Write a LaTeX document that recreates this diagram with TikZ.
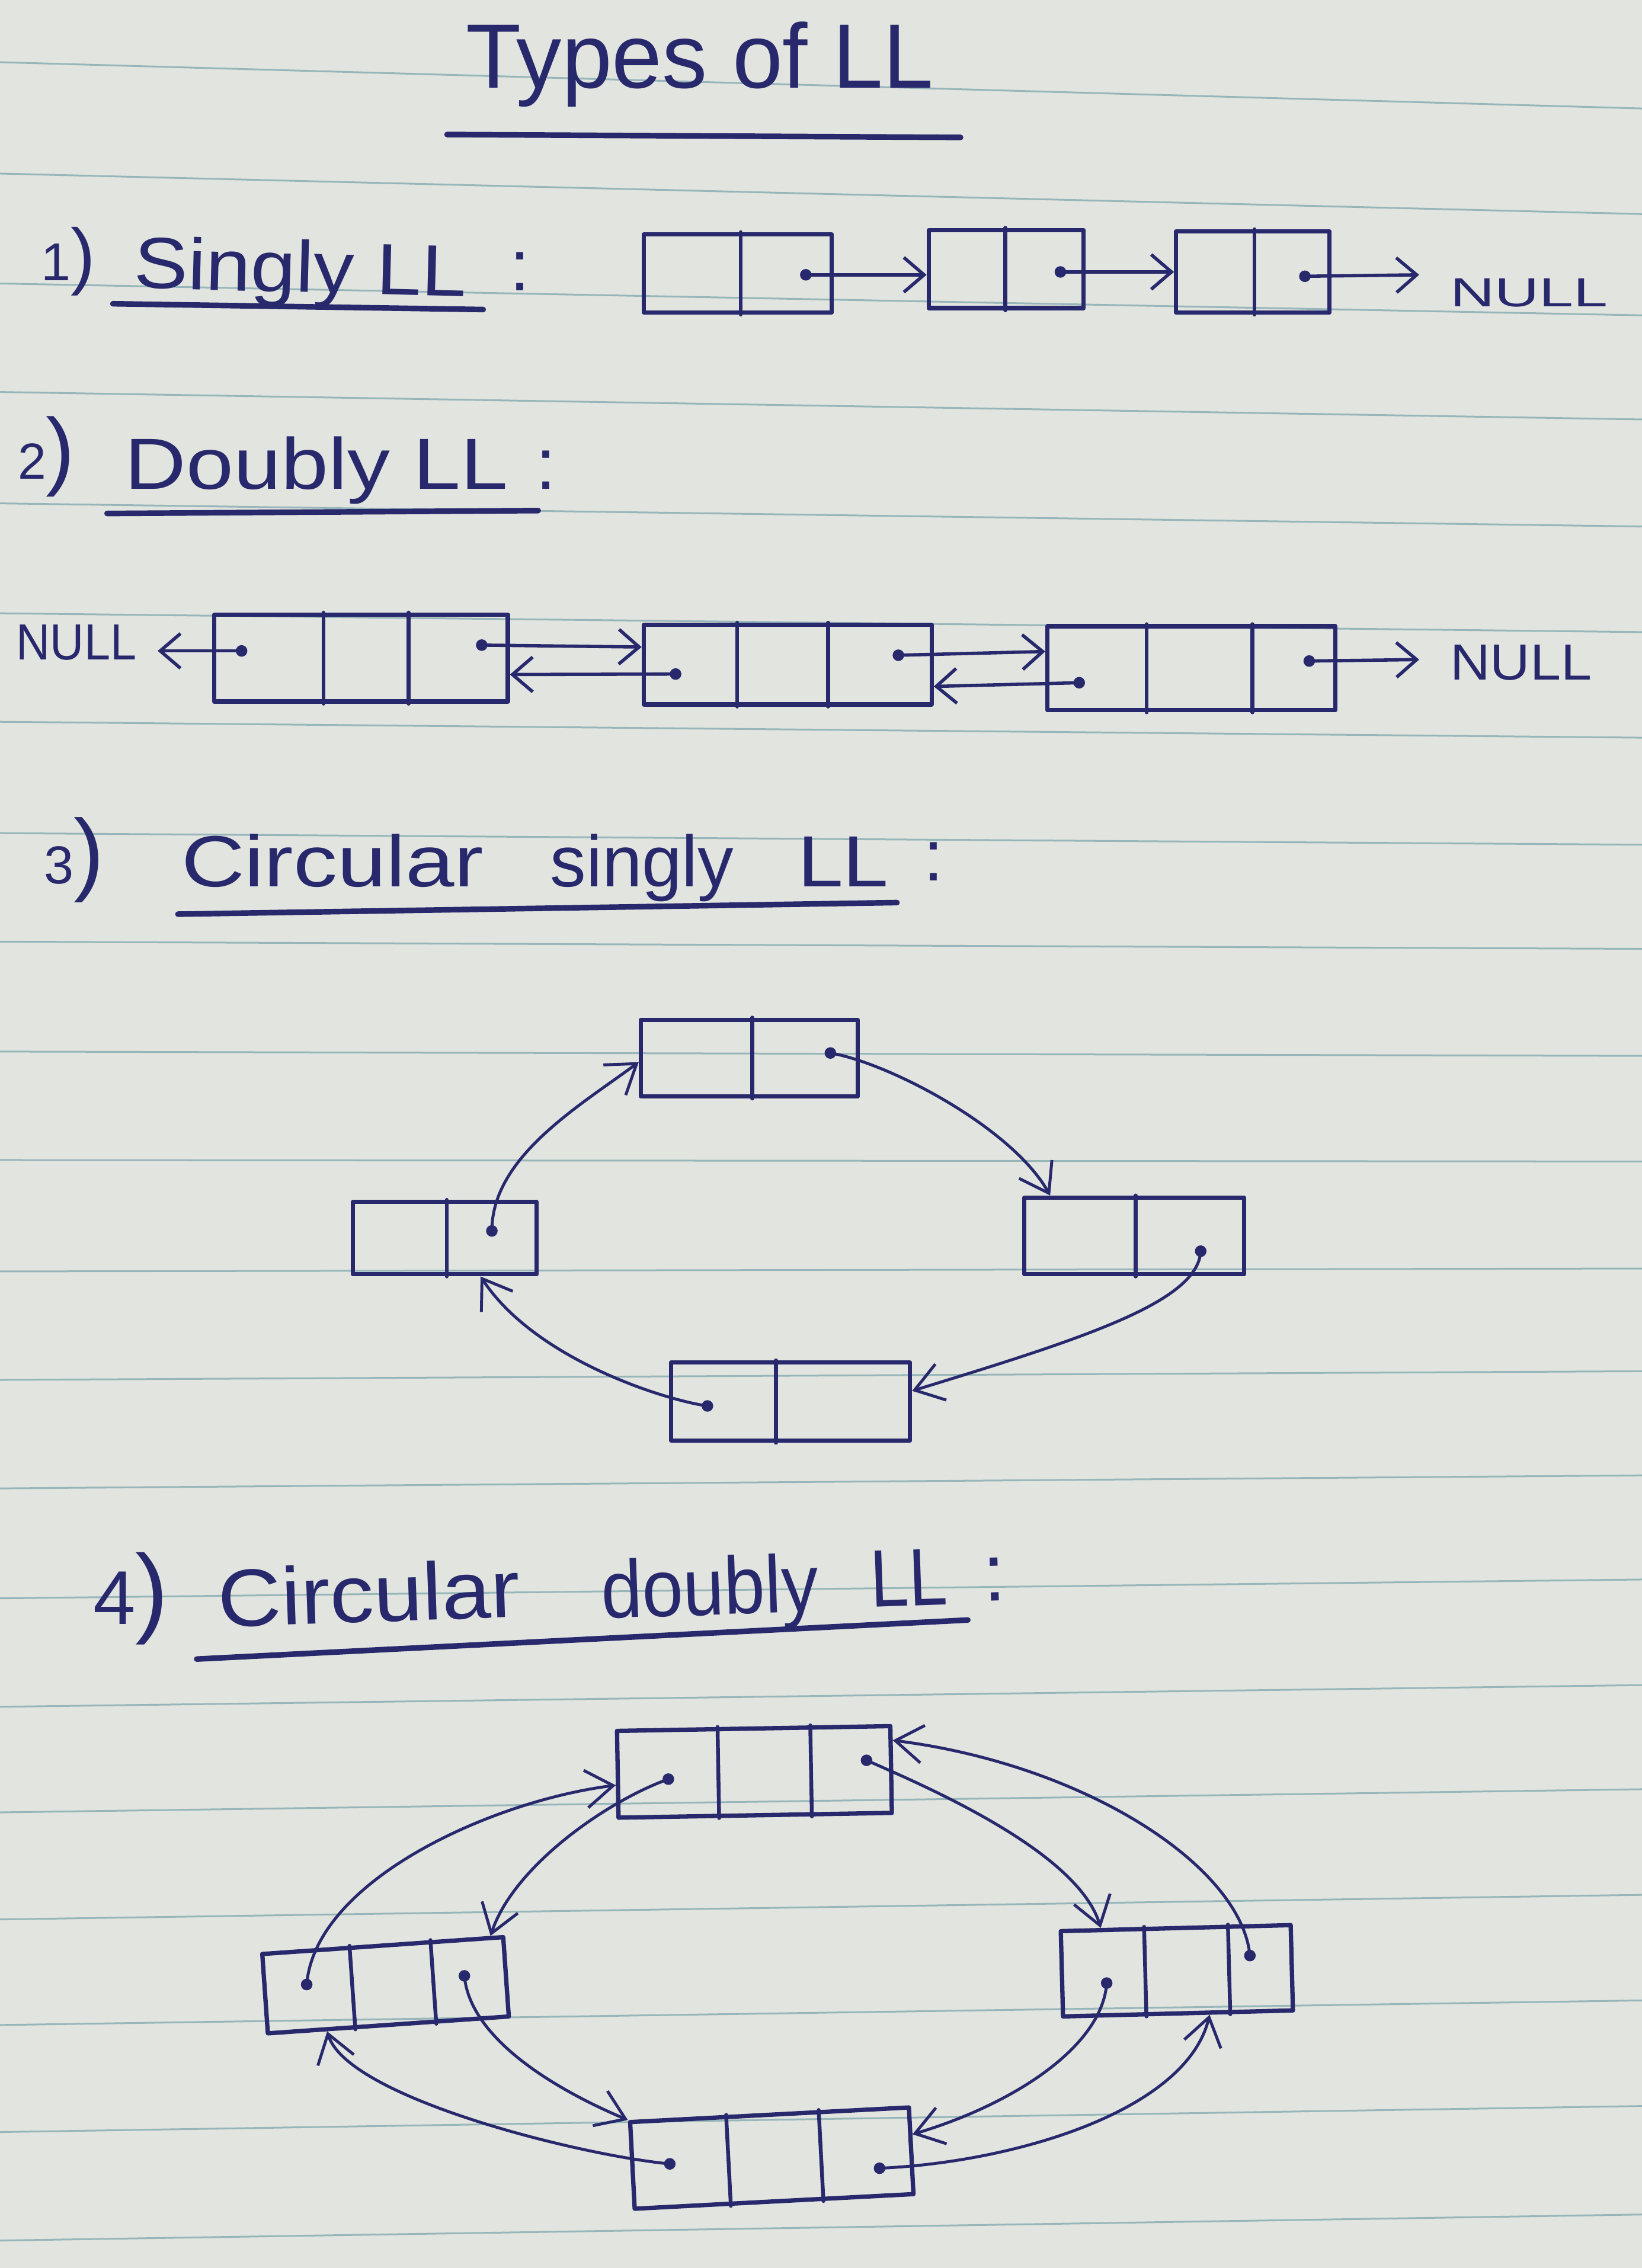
\documentclass[tikz,border=0pt]{standalone}
\usepackage{fontspec}
\setmainfont{Liberation Sans}
\usepackage{graphicx}
\usetikzlibrary{arrows.meta,calc}
\definecolor{paper}{RGB}{226,228,223}
\definecolor{ruleblue}{RGB}{150,182,186}
\definecolor{ink}{RGB}{40,40,108}
\newcommand\hwt[3]{\resizebox{#1}{\height}{\fontsize{#2}{#2}\selectfont #3}}
\newcommand\cellsep[2]{\draw[sepline] ($(#1.north west)!#2!(#1.north east)$) -- ($(#1.south west)!#2!(#1.south east)$);}
\begin{document}
\begin{tikzpicture}[x=0.02cm,y=-0.02cm,line cap=round,line join=round,
  lbox/.style={draw=ink,line width=1.7pt,rectangle,inner sep=0pt},
  sepline/.style={draw=ink,line width=1.5pt},
  dotn/.style={circle,fill=ink,inner sep=0pt,minimum size=0.16cm},
  conn/.style={draw=ink,line width=1.3pt,-{Straight Barb[length=0.28cm,width=0.48cm]}},
  cconn/.style={draw=ink,line width=1.15pt,-{Straight Barb[length=0.38cm,width=0.52cm]}},
  hw/.style={text=ink,inner sep=0pt,anchor=base west},
  uline/.style={draw=ink,line width=2.2pt},
  ruling/.style={draw=ruleblue,line width=0.7pt}]
\useasboundingbox (0,0) rectangle (1135,1568);
\fill[paper] (0,0) rectangle (1135,1568);
% ruled lines
\foreach \a/\b in {43/75,120/148,196/218,271/290,348/364,424/437,499/510,576/584,651/656,727/730,802/803,879/877,954/948,1029/1020,1105/1092,1180/1165,1253/1237,1327/1310,1400/1383,1474/1456,1549/1531}
  \draw[ruling] (0,\a) -- (1135,\b);

% title
\node[hw] (title) at (322,61) {\hwt{6.46cm}{36}{Types of LL}};
\draw[uline] (309,93) -- (664,95);

% ---------- 1) Singly
\node[hw] (n1) at (28,194) {{\fontsize{21}{21}\selectfont 1}{\fontsize{29}{29}\selectfont )}};
\node[hw,rotate=-1.5] (lab1) at (92,199) {\hwt{4.6cm}{28.5}{Singly LL}};
\node[hw] (col1) at (352,201) {\fontsize{28.5}{28.5}\selectfont :};
\draw[uline] (78,210) -- (334,214);

\node[lbox,minimum width=2.6cm,minimum height=1.08cm] (s1) at (510,189) {};
\node[lbox,minimum width=2.14cm,minimum height=1.08cm] (s2) at (695.5,186) {};
\node[lbox,minimum width=2.12cm,minimum height=1.12cm] (s3) at (866,188) {};
\cellsep{s1}{0.515}
\cellsep{s2}{0.495}
\cellsep{s3}{0.51}
\node[hw] (null1) at (1002,212) {\hwt{2.18cm}{16}{NULL}};
\coordinate (e1) at (981,190);
\node[dotn] (d1) at (557,190) {};
\node[dotn] (d2) at (733,188) {};
\node[dotn] (d3) at (902,191) {};
\draw[conn] (d1.center) -- (s2.west |- d1);
\draw[conn] (d2.center) -- (s3.west |- d2);
\draw[conn] (d3.center) -- (e1);

% ---------- 2) Doubly
\node[hw] (n2) at (12,331) {{\fontsize{20}{20}\selectfont 2}{\fontsize{34}{34}\selectfont )}};
\node[hw] (lab2) at (86,338) {\hwt{5.3cm}{28.5}{Doubly LL}};
\node[hw] (col2) at (370,338) {\fontsize{28.5}{28.5}\selectfont :};
\draw[uline] (74,355) -- (372,353);

\node[lbox,minimum width=4.06cm,minimum height=1.2cm] (b1) at (249.5,455) {};
\node[lbox,minimum width=3.98cm,minimum height=1.1cm] (b2) at (544.5,459.5) {};
\node[lbox,minimum width=3.98cm,minimum height=1.16cm] (b3) at (823.5,462) {};
\cellsep{b1}{0.374}\cellsep{b1}{0.66}
\cellsep{b2}{0.327}\cellsep{b2}{0.638}
\cellsep{b3}{0.347}\cellsep{b3}{0.709}
\node[hw] (null2) at (11,456) {\hwt{1.66cm}{20}{NULL}};
\node[hw] (null3) at (1002,470) {\hwt{1.96cm}{20}{NULL}};
\coordinate (e2) at (109,450);
\coordinate (e3) at (981,456);
\node[dotn] (p1) at (167,450) {};
\node[dotn] (q1) at (333,446) {};
\node[dotn] (p2) at (467,466) {};
\node[dotn] (q2) at (621,453) {};
\node[dotn] (p3) at (746,472) {};
\node[dotn] (q3) at (905,457) {};
\draw[conn] (p1.center) -- (e2);
\draw[conn] (q1.center) -- ($(b2.north west)!0.29!(b2.south west)$);
\draw[conn] (p2.center) -- ($(b1.north east)!0.68!(b1.south east)$);
\draw[conn] (q2.center) -- ($(b3.north west)!0.31!(b3.south west)$);
\draw[conn] (p3.center) -- ($(b2.north east)!0.76!(b2.south east)$);
\draw[conn] (q3.center) -- (e3);

% ---------- 3) Circular singly
\node[hw] (n3) at (30,611) {{\fontsize{21}{21}\selectfont 3}{\fontsize{36}{36}\selectfont )}};
\node[hw] (lab3a) at (125,613) {\hwt{4.18cm}{28.5}{Circular}};
\node[hw] (lab3b) at (380,613) {\hwt{2.54cm}{28.5}{singly}};
\node[hw] (lab3c) at (551,613) {\hwt{1.26cm}{28.5}{LL}};
\node[hw] (col3) at (638,609) {\fontsize{28.5}{28.5}\selectfont :};
\draw[uline] (123,632) -- (620,624);

\node[lbox,minimum width=3.0cm,minimum height=1.06cm] (c1) at (518,731.5) {};
\node[lbox,minimum width=3.04cm,minimum height=1.06cm] (c2) at (784,854.5) {};
\node[lbox,minimum width=3.3cm,minimum height=1.08cm] (c3) at (546.5,969) {};
\node[lbox,minimum width=2.54cm,minimum height=1.0cm] (c4) at (307.5,856) {};
\cellsep{c1}{0.513}
\cellsep{c2}{0.507}
\cellsep{c3}{0.44}
\cellsep{c4}{0.51}
\node[dotn] (k1) at (574,728) {};
\node[dotn] (k2) at (830,865) {};
\node[dotn] (k3) at (489,972) {};
\node[dotn] (k4) at (340,851) {};
\draw[cconn] (k1.center) .. controls (615,735) and (700,780) .. ($(c2.north west)!0.125!(c2.north east)$);
\draw[cconn] (k2.center) .. controls (828,900) and (750,925) .. ($(c3.north east)!0.37!(c3.south east)$);
\draw[cconn] (k3.center) .. controls (460,968) and (370,940) .. ($(c4.south west)!0.69!(c4.south east)$);
\draw[cconn] (k4.center) .. controls (340,800) and (400,765) .. ($(c1.north west)!0.55!(c1.south west)$);

% ---------- 4) Circular doubly
\node[hw] (n4) at (64,1123) {{\fontsize{30}{30}\selectfont 4}{\fontsize{39}{39}\selectfont )}};
\node[hw,rotate=2] (lab4a) at (151,1125) {\hwt{4.18cm}{32}{Circular}};
\node[hw,rotate=2] (lab4b) at (416,1119) {\hwt{3.0cm}{32}{doubly}};
\node[hw,rotate=2] (lab4c) at (602,1111) {\hwt{1.06cm}{32}{LL}};
\node[hw,rotate=2] (col4) at (680,1107) {\fontsize{32}{32}\selectfont :};
\draw[uline] (136,1147) -- (669,1120);

\node[lbox,minimum width=3.78cm,minimum height=1.2cm,rotate=1] (ct) at (521.5,1225) {};
\node[lbox,minimum width=3.18cm,minimum height=1.18cm,rotate=1.5] (cr) at (813.5,1362.5) {};
\node[lbox,minimum width=3.86cm,minimum height=1.2cm,rotate=3] (cb) at (533.5,1492) {};
\node[lbox,minimum width=3.34cm,minimum height=1.1cm,rotate=4] (cl) at (266.5,1372.5) {};
\cellsep{ct}{0.37}\cellsep{ct}{0.704}
\cellsep{cr}{0.365}\cellsep{cr}{0.723}
\cellsep{cb}{0.347}\cellsep{cb}{0.674}
\cellsep{cl}{0.365}\cellsep{cl}{0.695}
\node[dotn] (tL) at (462,1230) {};
\node[dotn] (tR) at (599,1217) {};
\node[dotn] (rL) at (765,1371) {};
\node[dotn] (rR) at (864,1352) {};
\node[dotn] (bL) at (463,1496) {};
\node[dotn] (bR) at (608,1499) {};
\node[dotn] (lL) at (212,1372) {};
\node[dotn] (lR) at (321,1366) {};
\draw[cconn] (lL.center) .. controls (218,1300) and (340,1245) .. ($(ct.north west)!0.62!(ct.south west)$);
\draw[cconn] (tL.center) .. controls (420,1245) and (355,1290) .. ($(cl.north west)!0.94!(cl.north east)$);
\draw[cconn] (tR.center) .. controls (640,1235) and (745,1280) .. ($(cr.north west)!0.18!(cr.north east)$);
\draw[cconn] (rR.center) .. controls (858,1290) and (750,1220) .. ($(ct.north east)!0.18!(ct.south east)$);
\draw[cconn] (rL.center) .. controls (762,1415) and (700,1455) .. ($(cb.north east)!0.32!(cb.south east)$);
\draw[cconn] (bR.center) .. controls (700,1495) and (820,1460) .. ($(cr.south west)!0.635!(cr.south east)$);
\draw[cconn] (lR.center) .. controls (325,1410) and (385,1445) .. (cb.north west);
\draw[cconn] (bL.center) .. controls (400,1490) and (240,1450) .. ($(cl.south west)!0.25!(cl.south east)$);
\end{tikzpicture}
\end{document}
